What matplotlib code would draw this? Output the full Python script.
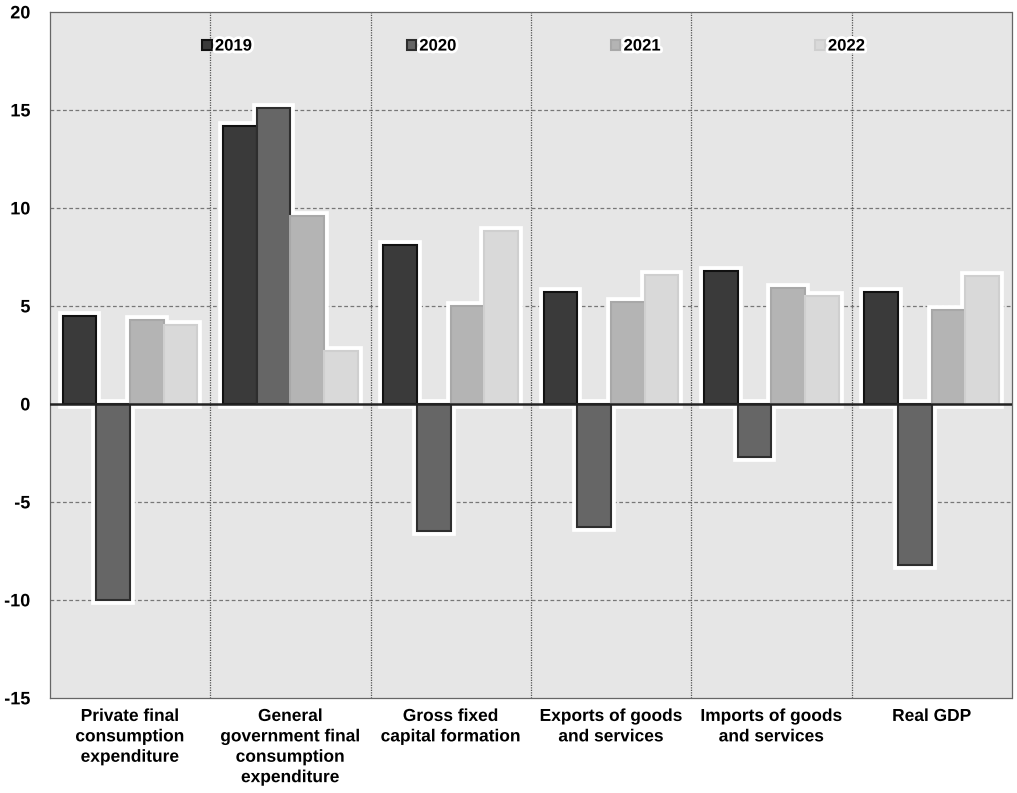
import numpy as np
import matplotlib
matplotlib.use('Agg')
import matplotlib.pyplot as plt
import matplotlib.patheffects as pe

plt.rcParams['font.family'] = ['Liberation Sans', 'DejaVu Sans']
plt.rcParams['font.weight'] = 'bold'
plt.rcParams['axes.unicode_minus'] = False

categories = ['Private final\nconsumption\nexpenditure',
              'General\ngovernment final\nconsumption\nexpenditure',
              'Gross fixed\ncapital formation',
              'Exports of goods\nand services',
              'Imports of goods\nand services',
              'Real GDP']
years = ['2019', '2020', '2021', '2022']
v2019 = [4.5, 14.2, 8.1, 5.7, 6.8, 5.7]
v2020 = [-10.0, 15.1, -6.5, -6.3, -2.7, -8.2]
v2021 = [4.3, 9.6, 5.0, 5.2, 5.9, 4.8]
v2022 = [4.0, 2.7, 8.8, 6.6, 5.5, 6.5]
yticks = [-15, -10, -5, 0, 5, 10, 15, 20]

series = [v2019, v2020, v2021, v2022]
faces = ['#3a3a3a', '#666666', '#b4b4b4', '#d9d9d9']
edges = ['#111111', '#2e2e2e', '#a8a8a8', '#cfcfcf']

fig = plt.figure(figsize=(10.17, 7.93), dpi=100)
ax = fig.add_axes([0.049, 0.12, 0.946, 0.865])
ax.set_facecolor('#e6e6e6')

x = np.arange(len(categories))
w = 0.21
glow = [pe.withStroke(linewidth=4, foreground='white')]

for i, vals in enumerate(series):
    pos = x + (i - 1.5) * w
    # white halo behind the bars
    ax.bar(pos, vals, w, color='white', edgecolor='white', linewidth=7, zorder=2)
for i, (vals, fc, ec) in enumerate(zip(series, faces, edges)):
    pos = x + (i - 1.5) * w
    ax.bar(pos, vals, w, color=fc, edgecolor=ec, linewidth=1.5, zorder=3, label=years[i])

ax.axhline(0, color='#222222', lw=1.8, zorder=4)
for yv in yticks[1:-1]:
    if yv != 0:
        ax.axhline(yv, color='#777777', lw=0.9, ls=(0, (3, 2)), zorder=1)
for k in range(1, len(categories)):
    ax.axvline(k - 0.5, color='#555555', lw=0.9, ls=(0, (1, 1)), zorder=1)

ax.set_xlim(-0.5, len(categories) - 0.5)
ax.set_ylim(-15, 20)
ax.set_yticks(yticks)
ax.set_xticks(x)
ax.set_xticklabels(categories, fontsize=12.5, fontweight='bold', linespacing=1.45)
ax.tick_params(axis='y', labelsize=13, length=0, pad=14)
ax.tick_params(axis='x', length=0, pad=8)
for lab in ax.get_yticklabels():
    lab.set_fontweight('bold')
    lab.set_path_effects(glow)
for lab in ax.get_xticklabels():
    lab.set_path_effects(glow)
for s in ax.spines.values():
    s.set_color('#666666')
    s.set_linestyle((0, (1, 1)))
    s.set_linewidth(0.9)

leg = ax.legend(loc='upper left', bbox_to_anchor=(0.143, 0.983), ncol=4, frameon=False,
                handlelength=0.55, handleheight=0.55, handletextpad=0.2,
                columnspacing=9.3, prop={'weight': 'bold', 'size': 12})
for t in leg.get_texts():
    t.set_path_effects(glow)

fig.savefig('out.png', dpi=100, facecolor='white')
